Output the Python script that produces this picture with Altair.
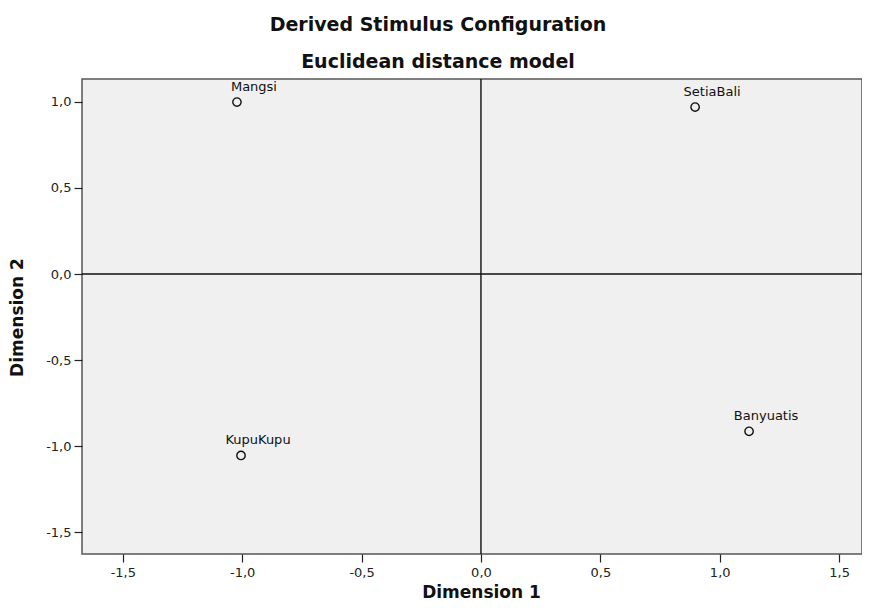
import altair as alt
import pandas as pd

names = ["Mangsi", "SetiaBali", "Banyuatis", "KupuKupu"]
dim1 = [-1.022, 0.897, 1.123, -1.005]
dim2 = [0.998, 0.969, -0.913, -1.053]
x_ticks = [-1.5, -1.0, -0.5, 0.0, 0.5, 1.0, 1.5]
y_ticks = [-1.5, -1.0, -0.5, 0.0, 0.5, 1.0]

df = pd.DataFrame({"name": names, "d1": dim1, "d2": dim2})
zero = pd.DataFrame({"z": [0.0]})

FONT = "DejaVu Sans"
lab = "replace(replace(format(datum.value, '.1f'), '.', ','), '\u2212', '-')"

xs = alt.Scale(domain=[-1.671, 1.596], nice=False, zero=False)
ys = alt.Scale(domain=[-1.625, 1.132], nice=False, zero=False)

xaxis = alt.Axis(values=x_ticks, labelExpr=lab, grid=False, tickSize=8, tickColor="#222",
                 tickWidth=1.2, domain=False, labelFont=FONT, labelFontSize=13,
                 labelColor="#222", labelPadding=4, title="Dimension 1", titleFont=FONT,
                 titleFontSize=17, titleFontWeight="bold", titleColor="#111",
                 titleX=399, titleY=30, titleBaseline="top")
yaxis = alt.Axis(values=y_ticks, labelExpr=lab, grid=False, tickSize=8, tickColor="#222",
                 tickWidth=1.2, domain=False, labelFont=FONT, labelFontSize=13,
                 labelColor="#222", labelPadding=3, title="Dimension 2", titleFont=FONT,
                 titleFontSize=17, titleFontWeight="bold", titleColor="#111",
                 titleX=-56, titleY=238, titleAlign="center", titleBaseline="bottom")

points = alt.Chart(df).mark_point(shape="circle", filled=False, size=70, color="#111",
                                  strokeWidth=1.4, opacity=1).encode(
    x=alt.X("d1:Q", scale=xs, axis=xaxis),
    y=alt.Y("d2:Q", scale=ys, axis=yaxis),
)

labels = alt.Chart(df).mark_text(dy=-15, dx=17, font=FONT, fontSize=13, color="#111",
                                 align="center", baseline="middle").encode(
    x=alt.X("d1:Q", scale=xs),
    y=alt.Y("d2:Q", scale=ys),
    text="name:N",
)

vline = alt.Chart(zero).mark_rule(color="#111", strokeWidth=1.4).encode(x=alt.X("z:Q", scale=xs))
hline = alt.Chart(zero).mark_rule(color="#111", strokeWidth=1.4).encode(y=alt.Y("z:Q", scale=ys))

chart = alt.layer(vline, hline, points, labels).properties(
    width=780,
    height=475,
    autosize=alt.AutoSizeParams(type="none"),
    padding={"left": 74, "top": 71, "right": 0, "bottom": 48},
    title=alt.TitleParams(
        text="Derived Stimulus Configuration",
        subtitle="Euclidean distance model",
        font=FONT, fontSize=19, fontWeight="bold", color="#111",
        subtitleFont=FONT, subtitleFontSize=19, subtitleFontWeight="bold", subtitleColor="#111",
        subtitlePadding=18, anchor="middle", dx=-34, offset=6,
    ),
).configure(
    background="white"
).configure_view(
    fill="#f0f0f0", stroke="#555", strokeWidth=1.5
)

chart.save("out.html", embed_options={"renderer": "svg", "actions": False})
